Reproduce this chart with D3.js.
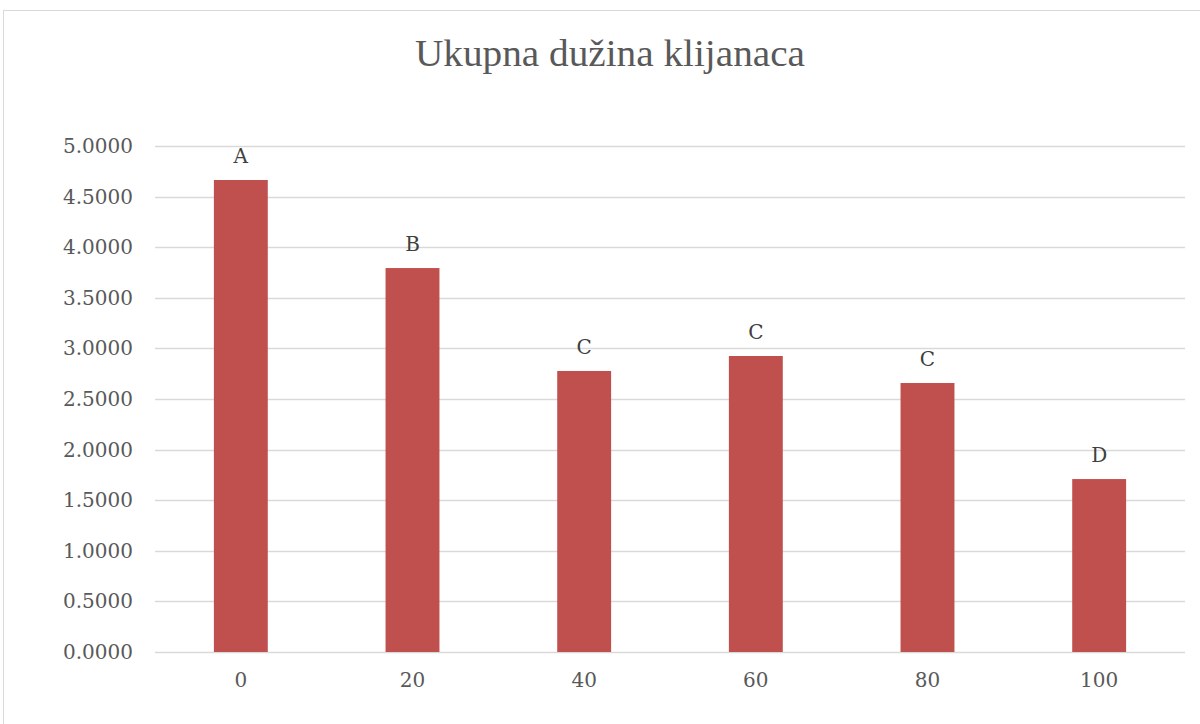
<!DOCTYPE html>
<html>
<head>
<meta charset="utf-8">
<script src="https://cdn.jsdelivr.net/npm/d3@7"></script>
<style>
  body { margin: 0; background: #fff; }
  text { font-family: "DejaVu Serif", "Liberation Serif", serif; fill: #595959; }
</style>
</head>
<body>
<div class="graph"></div>
<script>
var width = 1200,
    height = 724;

// data
var categories = ["0", "20", "40", "60", "80", "100"];
var values = [4.664, 3.794, 2.777, 2.925, 2.658, 1.709];
var letters = ["A", "B", "C", "C", "C", "D"];
var yTicks = [0, 0.5, 1, 1.5, 2, 2.5, 3, 3.5, 4, 4.5, 5];

var margin = {top: 146, right: 15, bottom: 72, left: 155};

var svg = d3.select(".graph").append("svg")
    .attr("width", width)
    .attr("height", height);

// outer chart border
svg.append("rect")
    .attr("x", 3.5).attr("y", 10.5)
    .attr("width", 1210).attr("height", 730)
    .attr("fill", "#fff")
    .attr("stroke", "#d9d9d9");

svg.append("text")
    .attr("x", 610).attr("y", 66)
    .attr("text-anchor", "middle")
    .style("font-family", "'Liberation Serif', serif")
    .style("font-size", "38px")
    .attr("textLength", 390)
    .attr("lengthAdjust", "spacingAndGlyphs")
    .text("Ukupna dužina klijanaca");

var x = d3.scaleBand()
    .domain(categories)
    .range([margin.left, width - margin.right])
    .paddingInner(0.686)
    .paddingOuter(0.343);

var y = d3.scaleLinear()
    .domain([0, 5])
    .range([height - margin.bottom, margin.top]);

var g = svg.append("g");

// gridlines
g.selectAll(".grid")
    .data(yTicks)
    .enter().append("line")
      .attr("class", "grid")
      .attr("x1", margin.left)
      .attr("x2", width - margin.right)
      .attr("y1", function(d) { return Math.round(y(d)) + 0.5; })
      .attr("y2", function(d) { return Math.round(y(d)) + 0.5; })
      .attr("stroke", "#d9d9d9")
      .attr("stroke-width", 1.5);

// y axis labels
var yAxis = d3.axisLeft(y)
    .tickValues(yTicks)
    .tickSize(0)
    .tickPadding(22)
    .tickFormat(d3.format(".4f"));

var yg = g.append("g")
    .attr("transform", "translate(" + margin.left + ",0)")
    .call(yAxis);
yg.select(".domain").remove();
yg.selectAll("text")
    .style("font-size", "20px")
    .style("fill", "#595959")
    .style("font-family", "'DejaVu Serif', serif");

// x axis labels
var xAxis = d3.axisBottom(x).tickSize(0).tickPadding(21);
var xg = g.append("g")
    .attr("transform", "translate(0," + (height - margin.bottom) + ")")
    .call(xAxis);
xg.select(".domain").remove();
xg.selectAll("text")
    .style("font-size", "20px")
    .style("fill", "#595959")
    .style("font-family", "'DejaVu Serif', serif");

// bars
g.selectAll(".bar")
    .data(values)
    .enter().append("rect")
      .attr("class", "bar")
      .attr("x", function(d, i) { return x(categories[i]); })
      .attr("width", x.bandwidth())
      .attr("y", function(d) { return y(d); })
      .attr("height", function(d) { return y(0) - y(d); })
      .attr("fill", "#c0504d");

// letter labels above bars
g.selectAll(".lbl")
    .data(values)
    .enter().append("text")
      .attr("class", "lbl")
      .attr("x", function(d, i) { return x(categories[i]) + x.bandwidth() / 2; })
      .attr("y", function(d) { return y(d) - 17; })
      .attr("text-anchor", "middle")
      .style("font-size", "20px")
      .style("fill", "#404040")
      .text(function(d, i) { return letters[i]; });
</script>
</body>
</html>
